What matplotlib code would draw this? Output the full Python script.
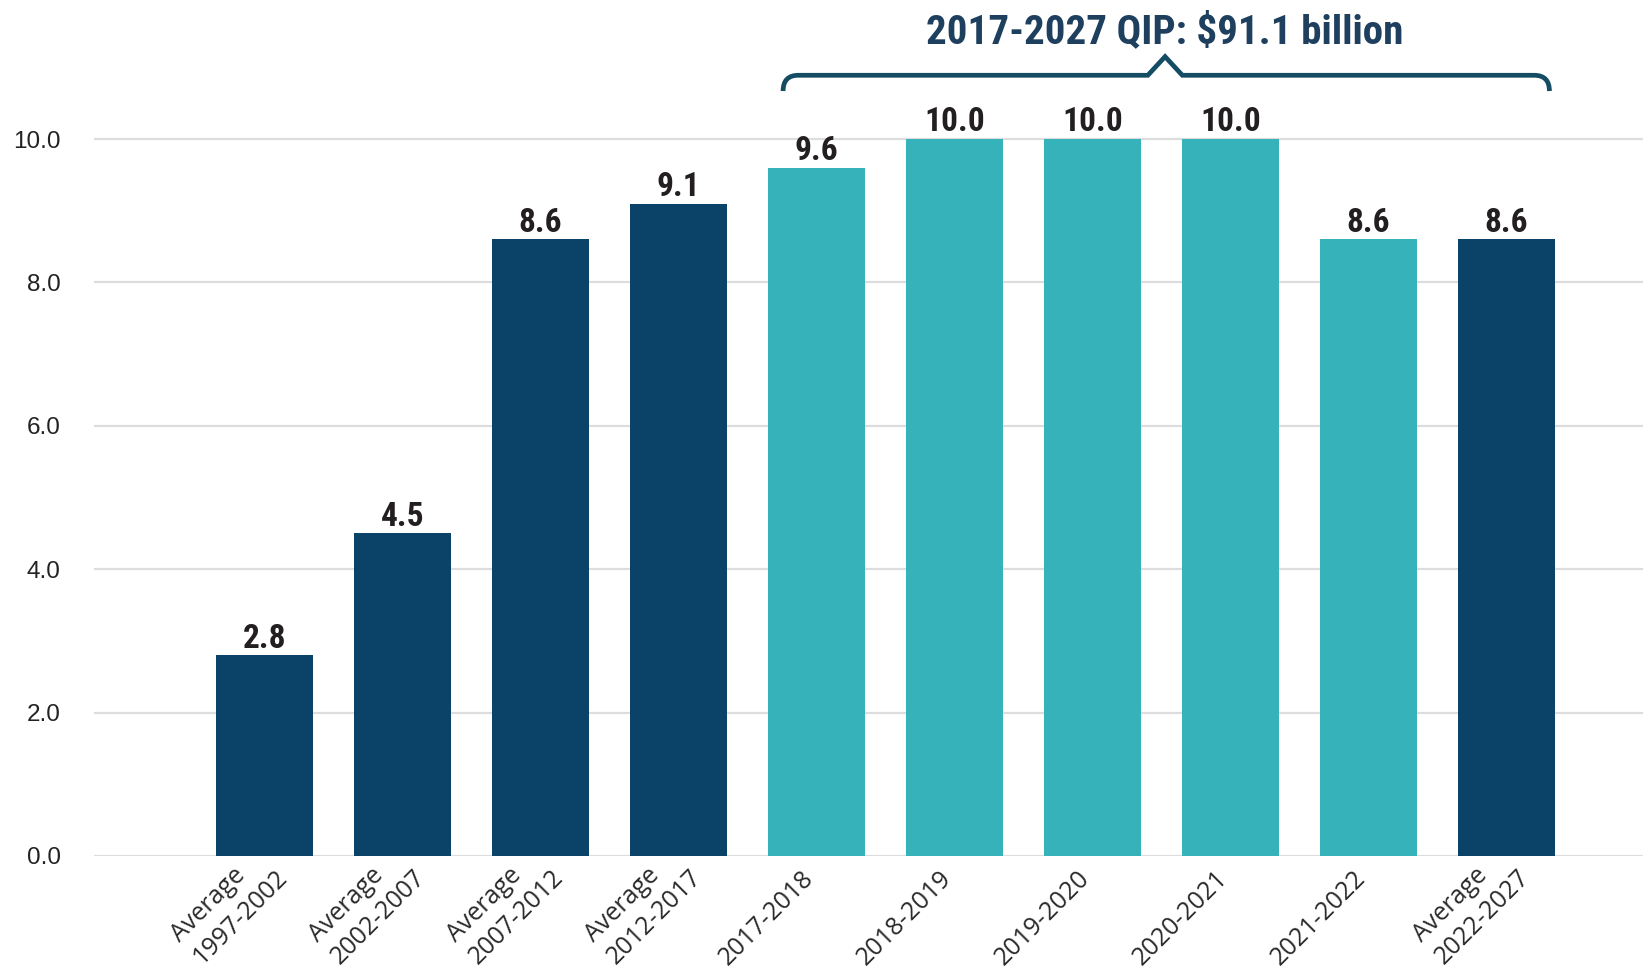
import matplotlib
matplotlib.use("Agg")
import matplotlib.pyplot as plt
from matplotlib.path import Path
from matplotlib.patches import PathPatch
import matplotlib.transforms as mtransforms
import logging
logging.getLogger("matplotlib.font_manager").setLevel(logging.ERROR)

categories = ["Average\n1997-2002", "Average\n2002-2007", "Average\n2007-2012",
              "Average\n2012-2017", "2017-2018", "2018-2019", "2019-2020",
              "2020-2021", "2021-2022", "Average\n2022-2027"]
values = [2.8, 4.5, 8.6, 9.1, 9.6, 10.0, 10.0, 10.0, 8.6, 8.6]
value_labels = ["2.8", "4.5", "8.6", "9.1", "9.6", "10.0", "10.0", "10.0", "8.6", "8.6"]
yticks = [0, 2, 4, 6, 8, 10]
ytick_labels = ["0.0", "2.0", "4.0", "6.0", "8.0", "10.0"]
title_text = "2017-2027 QIP: $91.1 billion"

DARK = "#0A4367"
TEAL = "#36B3BA"
BRACKET = "#134C63"
TITLE_C = "#1E3F5E"
LABEL_C = "#231F20"
NARROW = ["Roboto Condensed", "Liberation Sans Narrow", "Asap Condensed", "Barlow Semi Condensed", "DejaVu Sans"]

fig = plt.figure(figsize=(16.43, 9.69), dpi=100)
ax = fig.add_axes([94 / 1643, 113 / 969, (1643 - 94) / 1643, 856 / 969])

x = list(range(len(categories)))
colors = [DARK if c.startswith("Average") else TEAL for c in categories]
ax.bar(x, values, width=0.706, color=colors, zorder=3)

ax.set_xlim(-1.236, 9.988)
ax.set_ylim(0, 11.94)

for s in ax.spines.values():
    s.set_visible(False)
ax.set_yticks(yticks)
ax.set_yticklabels(ytick_labels, fontsize=17.5, family=["Liberation Sans", "DejaVu Sans"], color="#222222")
ax.tick_params(axis="y", length=0, pad=24)
for t in yticks:
    ax.axhline(t, color="#DDDDDD", lw=1.6, zorder=1)

ax.set_xticks(x)
ax.set_xticklabels([])
ax.tick_params(axis="x", length=0)
for xi, cat in zip(x, categories):
    multi = "\n" in cat
    dx, dy = (8.0, -7.0) if multi else (-7.0, -19.0)
    tr = ax.get_xaxis_transform() + mtransforms.ScaledTranslation(dx / 100, dy / 100, fig.dpi_scale_trans)
    ax.text(xi, 0, cat, transform=tr, rotation=45, ha="right", va="center",
            rotation_mode="anchor", fontsize=18, family=["Open Sans", "DejaVu Sans"],
            color="#2A2A2A", linespacing=1.35, multialignment="left", clip_on=False)

for xi, v, lab in zip(x, values, value_labels):
    ax.annotate(lab, (xi, v), xytext=(0, 5.5), textcoords="offset points",
                ha="center", va="baseline", fontsize=24, fontweight="bold",
                family=NARROW, color=LABEL_C, zorder=4)

# bracket over the QIP period
x0, x1 = 3.757, 9.31
xp, pw, ph = 6.525, 0.125, 0.26
yl, yb = 10.89, 10.67
rx = 0.11
verts = [(x0, yb), (x0, yl), (x0 + rx, yl),
         (xp - pw, yl), (xp, yl + ph), (xp + pw, yl),
         (x1 - rx, yl), (x1, yl), (x1, yb)]
codes = [Path.MOVETO, Path.CURVE3, Path.CURVE3,
         Path.LINETO, Path.LINETO, Path.LINETO,
         Path.LINETO, Path.CURVE3, Path.CURVE3]
ax.add_patch(PathPatch(Path(verts, codes), fill=False, edgecolor=BRACKET,
                       lw=3.4, capstyle="butt", joinstyle="miter", clip_on=False, zorder=5))

ax.text(xp, 11.343, title_text, ha="center", va="baseline", fontsize=29.5,
        fontweight="bold", family=NARROW, color=TITLE_C, clip_on=False)

fig.savefig("out.png", dpi=100)
